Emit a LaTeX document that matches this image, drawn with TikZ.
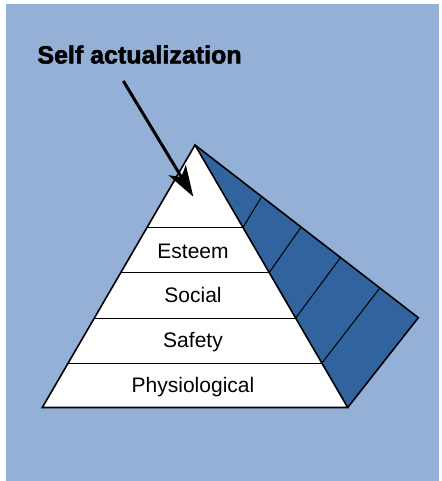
\documentclass[tikz,border=0pt]{standalone}
\usepackage{fontspec}
\setmainfont{Liberation Sans}
\newfontfamily\heavyfont[FakeBold=2]{Liberation Sans Bold}
\usetikzlibrary{arrows.meta,calc}
\definecolor{bgblue}{RGB}{148,176,214}
\definecolor{faceblue}{RGB}{49,99,158}
\tikzset{
  outline/.style={draw=black, line width=1.6pt, line join=miter},
  divider/.style={draw=black, line width=1pt},
  level/.style={anchor=base, font=\fontsize{21}{24}\selectfont, inner sep=0pt},
  titletext/.style={anchor=base, font=\heavyfont\fontsize{25}{28}\selectfont, inner sep=0pt},
  pointer/.style={line width=3pt, -{Stealth[length=31pt,width=20pt,inset=8pt]}}
}
\begin{document}
\begin{tikzpicture}[x=1pt,y=-1pt]
\useasboundingbox (0,0) rectangle (441,481);
\fill[bgblue] (6,4) rectangle (439,481);
% key points
\coordinate (A) at (195,145);
\coordinate (BL) at (42.3,407.5);
\coordinate (BR) at (347.7,407.5);
\coordinate (R) at (418.3,317.7);
% side face
\fill[faceblue] (A) -- (R) -- (BR) -- cycle;
% white pyramid
\fill[white] (A) -- (BR) -- (BL) -- cycle;
% band boundaries on pyramid
\foreach \t/\n in {0.3141/1,0.4859/2,0.6592/3,0.8309/4}{
  \coordinate (L\n) at ($(A)!\t!(BL)$);
  \coordinate (M\n) at ($(A)!\t!(BR)$);
}
\coordinate (T1) at (261,197.7);
\coordinate (T2) at (300.7,227.7);
\coordinate (T3) at (340,258.3);
\coordinate (T4) at (379.3,288.7);
\foreach \n in {1,2,3,4}{
  \draw[divider] (L\n) -- (M\n);
  \draw[divider] (M\n) -- (T\n);
}
\draw[outline] (A) -- (R) -- (BR);
\draw[outline] (A) -- (BR) -- (BL) -- cycle;
% labels
\node[level] (esteem) at (193,258.3) {Esteem};
\node[level] (social) at (193,302.9) {Social};
\node[level] (safety) at (193,347.9) {Safety};
\node[level] (physio) at (193,392.5) {Physiological};
\node[titletext] (selfact) at (139.5,63.5) {Self actualization};
% arrow
\coordinate (arrowstart) at (123.3,81);
\coordinate (arrowtip) at (193.3,196.7);
\draw[pointer] (arrowstart) -- (arrowtip);
\end{tikzpicture}
\end{document}
